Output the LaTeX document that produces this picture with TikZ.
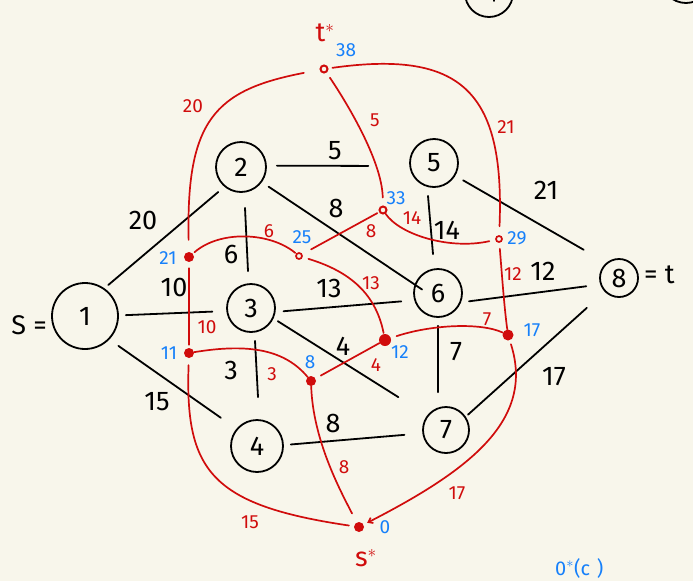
\documentclass[tikz,border=0pt]{standalone}
\usepackage{fontspec}
\setmainfont{Fira Sans}
\usetikzlibrary{arrows.meta}
\definecolor{bg}{RGB}{248,246,235}
\definecolor{myred}{RGB}{208,12,12}
\definecolor{myblue}{RGB}{22,128,250}
\tikzset{
  vtx/.style={circle, draw, line width=1.8pt, inner sep=0pt, font=\fontsize{27}{27}\selectfont},
  bedge/.style={line width=1.8pt, line cap=round},
  redge/.style={draw=myred, line width=1.7pt, line cap=round},
  blab/.style={inner sep=0pt, font=\fontsize{27}{27}\selectfont},
  rlab/.style={inner sep=0pt, text=myred, font=\fontsize{19}{19}\selectfont},
  bluelab/.style={inner sep=0pt, text=myblue, font=\fontsize{19}{19}\selectfont},
  fdot/.style={circle, fill=myred, inner sep=0pt, minimum size=10pt},
  rdot/.style={circle, draw=myred, line width=2pt, inner sep=0pt, minimum size=7pt},
}
\begin{document}
\begin{tikzpicture}[x=1pt,y=-1pt]
\useasboundingbox (0,0) rectangle (693,581);
\fill[bg] (0,0) rectangle (693,581);
\clip (0,0) rectangle (693,581);

% partial shapes at the top edge
\node[vtx, minimum size=48pt] (p1) at (489,-7) {};
\draw[bedge] ([shift={(6pt,5pt)}]p1.center) -- ([shift={(5pt,-8pt)}]p1.center);
\node[vtx, minimum size=50pt] (p2) at (686,-22) {};

% black graph nodes
\node[vtx, minimum size=66pt] (n1) at (85,316) {1};
\node[vtx, minimum size=50pt] (n2) at (241,167) {2};
\node[vtx, minimum size=48pt] (n3) at (251,308) {3};
\node[vtx, minimum size=52pt] (n4) at (257,446) {4};
\node[vtx, minimum size=48pt] (n5) at (434,163) {5};
\node[vtx, minimum size=48pt] (n6) at (438,293) {6};
\node[vtx, minimum size=46pt] (n7) at (446,430) {7};
\node[vtx, minimum size=38pt] (n8) at (619,278) {8};
\node[blab, anchor=east] (slab) at (47,325) {S =};
\node[blab, anchor=west] (tlab) at (644,275) {= t};

% black edges
\draw[bedge, shorten <=5pt, shorten >=8pt] (n1.55) -- (n2.230);
\draw[bedge, shorten <=7pt, shorten >=14pt] (n1.1) -- (n3.187.5);
\draw[bedge, shorten <=11pt, shorten >=19pt] (n1.-44) -- (n4.140);
\draw[bedge, shorten <=10pt, shorten >=41pt] (n2.3) -- (n5.187);
\draw[bedge, shorten <=8pt, shorten >=-9pt] (n2.-36) -- (n6.160);
\draw[bedge, shorten <=8pt, shorten >=13pt] (n3.-9) -- (n6.197);
\draw[bedge, shorten <=5pt, shorten >=34pt] (n3.-25) -- (n7.142);
\draw[bedge, shorten <=7pt, shorten >=18pt] (n4.2) -- (n7.188);
\draw[bedge, shorten <=9pt, shorten >=26pt] (n5.-31) -- (n8.130);
\draw[bedge, shorten <=8pt, shorten >=14pt] (n6.-22) -- (n8.199.5);
\draw[bedge, shorten <=3pt, shorten >=24pt] (n7.34) -- (n8.224);
\draw[bedge] ([shift={(4pt,-15pt)}]n2.south) -- ([shift={(-3pt,12pt)}]n3.north);
\draw[bedge] ([shift={(4pt,-8pt)}]n3.south) -- ([shift={(1pt,22pt)}]n4.north);
\draw[bedge] ([shift={(-6pt,-8pt)}]n5.south) -- ([shift={(-5pt,14pt)}]n6.north);
\draw[bedge] ([shift={(0pt,-8pt)}]n6.south) -- ([shift={(-8pt,14pt)}]n7.north);

% black edge labels
\node[blab] (w12) at (143,220) {20};
\node[blab] (w13) at (174,287) {10};
\node[blab] (w14) at (157,402) {15};
\node[blab] (w25) at (335,151) {5};
\node[blab] (w26) at (336,208) {8};
\node[blab] (w23) at (231,254) {6};
\node[blab] (w36) at (329,288) {13};
\node[blab] (w37) at (343,346) {4};
\node[blab] (w34) at (231,370) {3};
\node[blab] (w47) at (333,423) {8};
\node[blab] (w58) at (546,190) {21};
\node[blab] (w56) at (447,230) {14};
\node[blab] (w68) at (543,271) {12};
\node[blab] (w67) at (456,352) {7};
\node[blab] (w78) at (554,377) {17};

% red dual nodes
\node[rdot] (ts) at (324,69) {};
\node[fdot] (a) at (189,257) {};
\node[rdot, minimum size=6pt, line width=1.7pt] (b) at (299,256) {};
\node[rdot] (c) at (383,210) {};
\node[rdot, minimum size=6pt, line width=1.7pt] (d) at (499,239) {};
\node[fdot] (e) at (189,353) {};
\node[fdot] (f) at (311,381) {};
\node[fdot, minimum size=12pt] (g) at (385,340) {};
\node[fdot, minimum size=11pt] (h) at (508,335) {};
\node[fdot] (ss) at (359,527) {};

% red dual edges
\draw[redge, shorten <=16pt, shorten >=12pt] (ts) .. controls (215,90) and (186,120) .. (a);
\draw[redge, shorten <=6pt, shorten >=8pt] (ts) .. controls (345,100) and (382,160) .. (c);
\draw[redge, shorten <=4pt, shorten >=9pt] (ts) .. controls (460,50) and (505,90) .. (d);
\draw[redge, shorten <=2pt, shorten >=1pt] (a) .. controls (220,230) and (270,232) .. (b);
\draw[redge, shorten <=10pt, shorten >=2pt] (b) -- (c);
\draw[redge, shorten >=6pt] (c) .. controls (400,235) and (450,250) .. (d);
\draw[redge, shorten <=6pt, shorten >=1pt] (b) .. controls (345,270) and (375,290) .. (g);
\draw[redge, shorten <=6pt, shorten >=3pt] (a) -- (e);
\draw[redge] (e) .. controls (250,343) and (285,350) .. (f);
\draw[redge, shorten <=6pt] (f) -- (g);
\draw[redge, shorten <=6pt] (g) .. controls (430,325) and (480,322) .. (h);
\draw[redge, shorten <=6pt] (d) .. controls (502,275) and (504,305) .. (h);
\draw[redge, shorten <=7pt, shorten >=5pt] (e) .. controls (185,470) and (210,505) .. (ss);
\draw[redge, shorten >=10pt] (f) .. controls (313,440) and (340,490) .. (ss);
\draw[redge, shorten <=4pt, shorten >=4pt, -{Straight Barb[length=4pt,width=6pt]}] (h) .. controls (535,420) and (470,470) .. (ss);

% red labels
\node[inner sep=0pt, text=myred, font=\fontsize{27}{27}\selectfont] (tsl) at (325,33) {t$^{*}$};
\node[inner sep=0pt, text=myred, font=\fontsize{27}{27}\selectfont] (ssl) at (366,558) {s$^{*}$};
\node[rlab] (r1) at (193,106) {20};
\node[rlab] (r2) at (375,120) {5};
\node[rlab] (r3) at (506,127) {21};
\node[rlab] (r4) at (269,231) {6};
\node[rlab] (r5) at (371,231) {8};
\node[rlab] (r6) at (412,218) {14};
\node[rlab] (r7) at (371,283) {13};
\node[rlab] (r8) at (207,327) {10};
\node[rlab] (r9) at (272,374) {3};
\node[rlab] (r10) at (376,365) {4};
\node[rlab] (r11) at (487,319) {7};
\node[rlab] (r12) at (513,274) {12};
\node[rlab] (r13) at (250,522) {15};
\node[rlab] (r14) at (344,467) {8};
\node[rlab] (r15) at (457,493) {17};

% blue labels
\node[bluelab] (d1) at (346,50) {38};
\node[bluelab] (d2) at (168,258) {21};
\node[bluelab] (d3) at (302,237) {25};
\node[bluelab] (d4) at (396,198) {33};
\node[bluelab] (d5) at (517,238) {29};
\node[bluelab] (d6) at (169,353) {11};
\node[bluelab] (d7) at (310,362) {8};
\node[bluelab] (d8) at (400,352) {12};
\node[bluelab] (d9) at (532,330) {17};
\node[bluelab] (d10) at (385,527) {0};
\node[inner sep=0pt, anchor=base west, text=myblue, font=\fontsize{20}{20}\selectfont] (bnote) at (555,575) {0$^{*}$(c\,\,)};
\end{tikzpicture}
\end{document}
